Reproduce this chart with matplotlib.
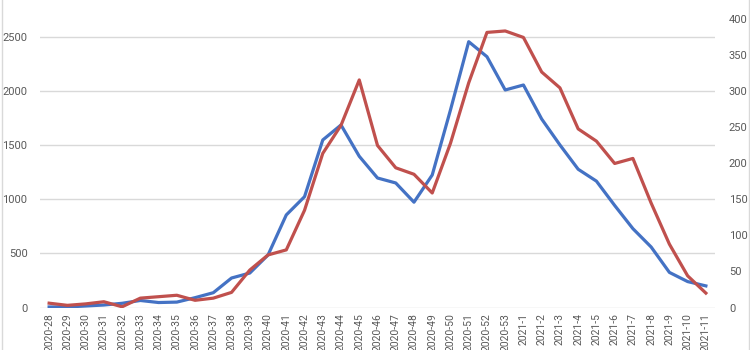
import matplotlib
matplotlib.use("Agg")
import matplotlib.pyplot as plt
from matplotlib.lines import Line2D

weeks = [f"2020-{w}" for w in range(28, 54)] + [f"2021-{w}" for w in range(1, 12)]

blue_left = [5, 5, 14, 23, 39, 65, 46, 50, 91, 137, 273, 319, 486, 857, 1026, 1551,
             1690, 1400, 1199, 1153, 975, 1227, 1829, 2461, 2322, 2014, 2060, 1745,
             1505, 1280, 1170, 945, 730, 560, 325, 240, 200]

red_right = [6, 3, 5, 8, 1, 13, 15, 17, 10, 13, 21, 52, 73, 80, 135, 214,
             253, 316, 225, 194, 185, 159, 228, 312, 382, 384, 375, 327,
             305, 248, 231, 200, 207, 145, 88, 44, 20]

blue = "#4472C4"
red = "#C0504D"
grey = "#595959"

plt.rcParams['font.family'] = ['Roboto', 'DejaVu Sans']

fig = plt.figure(figsize=(7.5, 3.5), dpi=100)
ax = fig.add_axes([40/750, 1 - 307.5/350, 675/750, 307.5/350])
ax2 = ax.twinx()

x = list(range(len(weeks)))
ax.plot(x, blue_left, color=blue, lw=2.3, solid_joinstyle='round', zorder=3)
ax2.plot(x, red_right, color=red, lw=2.3, solid_joinstyle='round', zorder=3)

ax.set_xlim(-0.5, len(weeks) - 0.5)
ax.set_ylim(0, 2847)
ax2.set_ylim(0, 427)
ax.set_yticks(range(0, 2501, 500))
ax2.set_yticks(range(0, 401, 50))
ax.set_xticks(x)
ax.set_xticklabels(weeks, rotation=90, fontsize=7.5, color=grey)

ax.grid(axis='y', color='#D9D9D9', lw=1)
ax.set_axisbelow(True)
for a in (ax, ax2):
    for s in a.spines.values():
        s.set_visible(False)
ax.tick_params(axis='y', length=0, pad=9, labelsize=8, labelcolor=grey)
ax2.tick_params(axis='y', length=0, pad=10, labelsize=8, labelcolor=grey)
ax.tick_params(axis='x', length=0, pad=4)

fig.add_artist(Line2D([1.5/750, 1.5/750], [0, 1], color='#D9D9D9', lw=1, transform=fig.transFigure))
fig.add_artist(Line2D([748.5/750, 748.5/750], [0, 1], color='#D9D9D9', lw=1, transform=fig.transFigure))

fig.savefig("out.png", dpi=100)
